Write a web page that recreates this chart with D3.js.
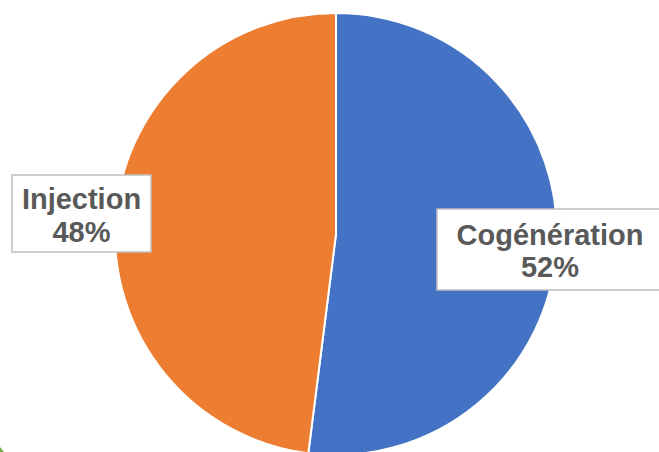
<!DOCTYPE html>
<html>
<head>
<meta charset="utf-8">
<script src="https://cdn.jsdelivr.net/npm/d3@7"></script>
<style>
  body { margin: 0; background: #fff; }
  svg { display: block; }
  .lbl text { font-family: 'Liberation Sans', Arial, sans-serif; font-weight: bold; font-size: 29px; fill: #595959; }
</style>
</head>
<body>
<div id="chart"></div>
<script>
const categories = ['Cogénération', 'Injection']
const values = [52, 48]
const colors = ['#4472C4', '#ED7D31']

const width = 659
const height = 452
const cx = 336
const cy = 234
const radius = 221

// label boxes placed by hand, like the original
const labelBoxes = [
  { x: 437, y: 209, w: 226, h: 81, base1: 245, base2: 277 },
  { x: 12, y: 175, w: 139, h: 77, base1: 209, base2: 242 }
]

const svg = d3.select('#chart').append('svg')
  .attr('width', width)
  .attr('height', height)

const pie = d3.pie().sort(null).value((d) => d)
const arcs = pie(values)
const arc = d3.arc().innerRadius(0).outerRadius(radius)

const g = svg.append('g')
  .attr('transform', 'translate(' + [cx, cy] + ')')

g.selectAll('path.slice')
  .data(arcs)
  .enter()
  .append('path')
  .attr('class', 'slice')
  .attr('d', arc)
  .attr('fill', (d, i) => colors[i])
  .attr('stroke', '#fff')
  .attr('stroke-width', 2)

const total = d3.sum(values)
const fmt = d3.format('.0%')

const lbl = svg.selectAll('g.lbl')
  .data(arcs)
  .enter()
  .append('g')
  .attr('class', 'lbl')

lbl.append('rect')
  .attr('x', (d, i) => labelBoxes[i].x)
  .attr('y', (d, i) => labelBoxes[i].y)
  .attr('width', (d, i) => labelBoxes[i].w)
  .attr('height', (d, i) => labelBoxes[i].h)
  .attr('fill', '#fff')
  .attr('stroke', '#bfbfbf')
  .attr('stroke-width', 1.5)

lbl.append('text')
  .attr('x', (d, i) => labelBoxes[i].x + labelBoxes[i].w / 2)
  .attr('y', (d, i) => labelBoxes[i].base1)
  .attr('text-anchor', 'middle')
  .text((d, i) => categories[i])

lbl.append('text')
  .attr('x', (d, i) => labelBoxes[i].x + labelBoxes[i].w / 2)
  .attr('y', (d, i) => labelBoxes[i].base2)
  .attr('text-anchor', 'middle')
  .text((d) => fmt(d.value / total))

// little green corner left over from the slide
svg.append('path')
  .attr('d', 'M0,447 L4,452 L0,452 Z')
  .attr('fill', '#70AD47')
</script>
</body>
</html>
